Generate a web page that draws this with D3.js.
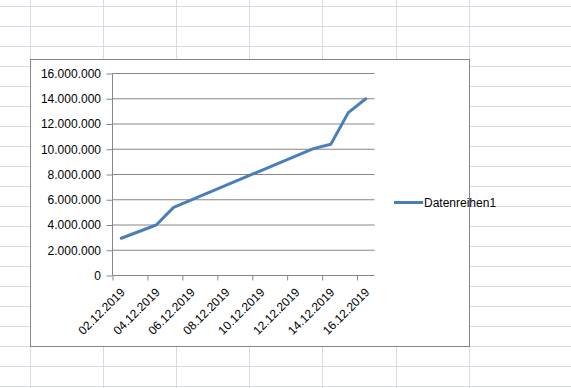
<!DOCTYPE html>
<html>
<head>
<meta charset="utf-8">
<script src="https://cdn.jsdelivr.net/npm/d3@7"></script>
<style>
  html, body { margin: 0; padding: 0; background: #fff; }
  svg { display: block; font-family: "Liberation Sans", Arial, sans-serif; }
</style>
</head>
<body>
<svg id="chart" width="571" height="388"></svg>
<script>
(function() {
  'use strict';

  // dates where the line bends (date axis, missing days are joined straight)
  var dates = ['02.12.2019', '04.12.2019', '05.12.2019', '13.12.2019', '14.12.2019', '15.12.2019', '16.12.2019'];
  var values = [2950000, 4000000, 5400000, 10050000, 10400000, 12900000, 14000000];
  var seriesName = 'Datenreihen1';

  var xTickLabels = ['02.12.2019', '04.12.2019', '06.12.2019', '08.12.2019', '10.12.2019', '12.12.2019', '14.12.2019', '16.12.2019'];
  var yTicks = [0, 2000000, 4000000, 6000000, 8000000, 10000000, 12000000, 14000000, 16000000];

  var parse = d3.timeParse('%d.%m.%Y');
  var de = d3.formatLocale({ decimal: ',', thousands: '.', grouping: [3], currency: ['', ' €'] });
  var fmt = de.format(',d');

  var svg = d3.select('#chart');

  // spreadsheet cells behind the chart
  var cells = svg.append('g').attr('stroke', '#d4dbe6').attr('stroke-width', 1);
  cells.selectAll('line.h')
    .data(d3.range(6.5, 388, 20))
    .enter().append('line')
    .attr('x1', 0).attr('x2', 571)
    .attr('y1', function(d) { return d; }).attr('y2', function(d) { return d; });
  cells.selectAll('line.v')
    .data([30.5, 103.5, 176.5, 249.5, 322.5, 396.5, 469.5])
    .enter().append('line')
    .attr('y1', 0).attr('y2', 388)
    .attr('x1', function(d) { return d; }).attr('x2', function(d) { return d; });

  // chart area
  svg.append('rect')
    .attr('x', 30.5).attr('y', 59.5)
    .attr('width', 439).attr('height', 287)
    .attr('fill', '#fff')
    .attr('stroke', '#868686');

  var left = 112.5, right = 374.5, top = 73.5, bottom = 275.5;

  var start = parse(xTickLabels[0]);
  var end = d3.timeDay.offset(parse(xTickLabels[xTickLabels.length - 1]), 1);
  var x = d3.scaleTime().domain([start, end]).range([left, right]);
  var halfDay = (x(d3.timeDay.offset(start, 1)) - x(start)) / 2;
  var y = d3.scaleLinear().domain([0, 16000000]).range([bottom, top]);

  // horizontal gridlines
  svg.append('g')
    .selectAll('line')
    .data(yTicks.slice(1))
    .enter().append('line')
    .attr('x1', left).attr('x2', right)
    .attr('y1', function(d) { return y(d); })
    .attr('y2', function(d) { return y(d); })
    .attr('stroke', '#868686');

  var yAxis = svg.append('g')
    .attr('transform', 'translate(' + left + ',0)')
    .call(d3.axisLeft(y).tickValues(yTicks).tickFormat(fmt).tickSize(6).tickPadding(5.5));

  var xAxis = svg.append('g')
    .attr('transform', 'translate(0,' + bottom + ')')
    .call(d3.axisBottom(x).tickValues(xTickLabels.map(parse)).tickSize(5)
      .tickFormat(function(d, i) { return xTickLabels[i]; }));

  xAxis.select('.domain').attr('d', 'M' + left + ',0H' + right);
  yAxis.select('.domain').attr('d', 'M0,' + top + 'V' + bottom);

  [xAxis, yAxis].forEach(function(a) {
    a.attr('font-family', null).attr('font-size', 12);
    a.selectAll('.domain, .tick line').attr('stroke', '#868686');
    a.selectAll('.tick text').attr('fill', '#000');
  });

  xAxis.selectAll('.tick text')
    .attr('y', 0).attr('dy', 0)
    .attr('text-anchor', 'end')
    .attr('transform', 'translate(' + (halfDay + 4) + ',17.5) rotate(-45)');

  var points = dates.map(function(d, i) { return { date: parse(d), value: values[i] }; });

  var line = d3.line()
    .x(function(d) { return x(d.date) + halfDay; })
    .y(function(d) { return y(d.value); });

  svg.append('path')
    .datum(points)
    .attr('d', line)
    .attr('fill', 'none')
    .attr('stroke', '#4a7ebb')
    .attr('stroke-width', 3)
    .attr('stroke-linejoin', 'round')
    .attr('stroke-linecap', 'round');

  // legend
  var legend = svg.append('g').attr('transform', 'translate(394,202.5)');
  legend.append('line')
    .attr('x1', 0).attr('x2', 29)
    .attr('stroke', '#4a7ebb').attr('stroke-width', 3);
  legend.append('text')
    .attr('x', 30).attr('y', 4.5)
    .attr('font-size', 12)
    .attr('fill', '#000')
    .text(seriesName);
})();
</script>
</body>
</html>
